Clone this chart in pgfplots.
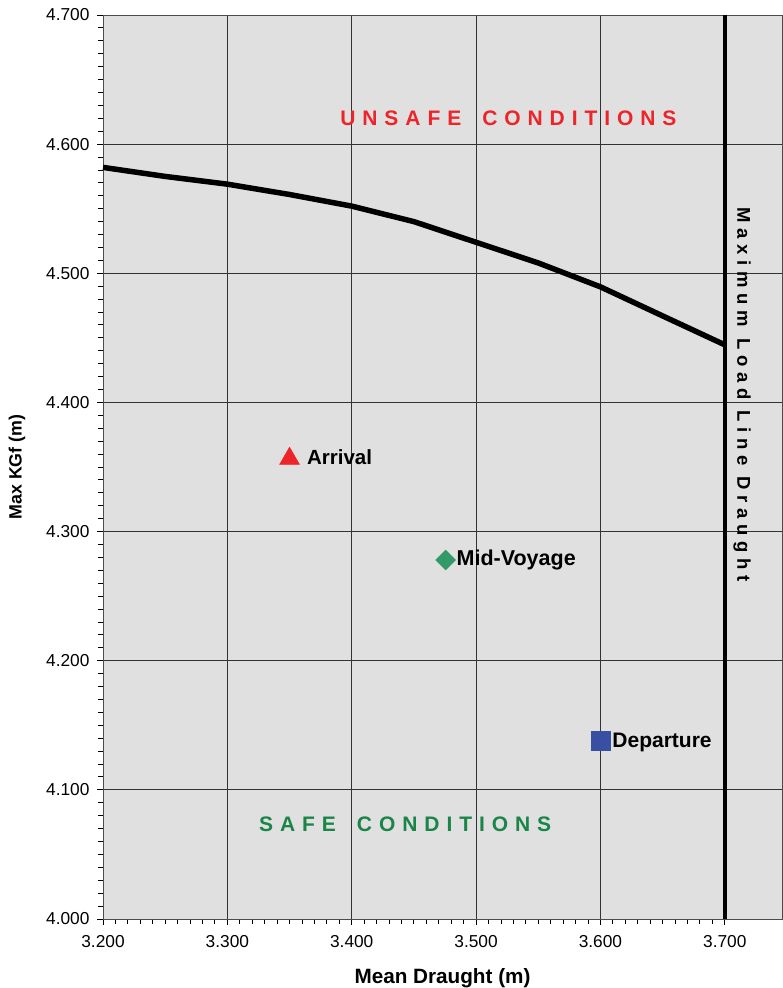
\documentclass[border=0pt]{standalone}
\usepackage{fontspec}
\setmainfont{Liberation Sans}
\usepackage{pgfplots}
\pgfplotsset{compat=1.18}
\definecolor{bgc}{rgb}{0.88,0.88,0.88}
\definecolor{unsafered}{rgb}{0.93,0.14,0.16}
\definecolor{safegreen}{rgb}{0.1,0.52,0.28}
\definecolor{diagreen}{rgb}{0.2,0.6,0.4}
\definecolor{sqblue}{rgb}{0.22,0.31,0.64}
\begin{document}
\begin{tikzpicture}
\begin{axis}[
  scale only axis,
  width=679pt, height=904pt,
  xmin=3.2, xmax=3.746, ymin=4.0, ymax=4.7,
  xtick={3.2,3.3,3.4,3.5,3.6,3.7},
  ytick={4.0,4.1,4.2,4.3,4.4,4.5,4.6,4.7},
  minor x tick num=9, minor y tick num=9,
  tick pos=left, tick align=outside,
  major tick length=6pt, minor tick length=4.5pt,
  tick style={black, line width=0.9pt},
  grid=major,
  major grid style={black!80, line width=0.9pt},
  axis background/.style={fill=bgc},
  axis line style={black!70, line width=0.9pt},
  /pgf/number format/.cd, fixed, fixed zerofill, precision=3, assume math mode=true,
  /pgfplots/.cd,
  ticklabel style={font=\fontsize{17.3}{19}\selectfont},
  xticklabel style={yshift=-7pt},
  yticklabel style={xshift=-4pt},
  xlabel={\textbf{Mean Draught (m)}},
  ylabel={\textbf{Max KGf (m)}},
  xlabel style={font=\fontsize{20.7}{22}\selectfont, yshift=-14pt},
  ylabel style={font=\fontsize{17.8}{19}\selectfont, yshift=14pt},
  clip=false,
]
\coordinate (bl) at (rel axis cs:0,0);
\coordinate (tr) at (rel axis cs:1,1);
\addplot[black, line width=5.5pt, line join=round] coordinates {
(3.20,4.582) (3.25,4.575) (3.30,4.569) (3.35,4.561) (3.40,4.552) (3.45,4.540)
(3.50,4.524) (3.55,4.508) (3.60,4.4895) (3.65,4.467) (3.70,4.4446)};
\addplot[black, line width=4pt] coordinates {(3.7,4.0) (3.7,4.7)};
\addplot[only marks, mark=triangle*, mark size=11.5pt, color=unsafered,
  nodes near coords={Arrival}, nodes near coords style={anchor=west, xshift=14pt, yshift=1pt, black, font=\fontsize{20.5}{22}\selectfont\bfseries}]
  coordinates {(3.350,4.3565)};
\addplot[only marks, mark=square*, mark size=7.1pt, mark options={rotate=45}, color=diagreen,
  nodes near coords={Mid-Voyage}, nodes near coords style={anchor=west, xshift=7.5pt, black, font=\fontsize{21.5}{22}\selectfont\bfseries}]
  coordinates {(3.4755,4.278)};
\addplot[only marks, mark=square*, mark size=9.5pt, color=sqblue,
  nodes near coords={Departure}, nodes near coords style={anchor=west, xshift=8.5pt, yshift=-2pt, black, font=\fontsize{21}{22}\selectfont\bfseries}]
  coordinates {(3.600,4.138)};
\node[font=\fontsize{21}{22}\selectfont\bfseries\addfontfeatures{LetterSpace=33}, text=unsafered] at (axis cs:3.5260,4.6197) {UNSAFE\hspace{1.0em}CONDITIONS};
\node[font=\fontsize{21}{22}\selectfont\bfseries\addfontfeatures{LetterSpace=33}, text=safegreen] at (axis cs:3.4430,4.0736) {SAFE\hspace{1.0em}CONDITIONS};
\node[rotate=-90, font=\fontsize{18.5}{20}\selectfont\bfseries\addfontfeatures{LetterSpace=31}] at (axis cs:3.7140,4.406) {Maximum Load Line Draught};
\end{axis}
\pgfresetboundingbox
\path ([shift={(-103pt,-69pt)}]bl) rectangle ([shift={(0pt,15pt)}]tr);
\end{tikzpicture}
\end{document}
